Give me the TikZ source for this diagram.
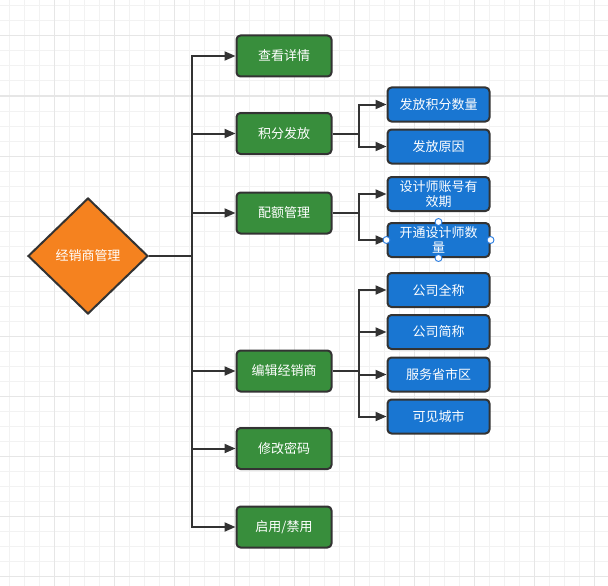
\documentclass[tikz,border=0pt]{standalone}
\usepackage{fontspec}
\newfontfamily\cjk{Noto Sans CJK SC}
\usetikzlibrary{shapes.geometric,arrows.meta}
\definecolor{gfill}{HTML}{388E3C}
\definecolor{bfill}{HTML}{1976D2}
\definecolor{ofill}{HTML}{F5821F}
\definecolor{edge}{HTML}{333333}
\definecolor{gridminor}{HTML}{F2F2F2}
\definecolor{gridmajor}{HTML}{E6E6E6}
\definecolor{handleblue}{HTML}{2A7DE1}
\begin{document}
\begin{tikzpicture}[x=1pt,y=-1pt,
  lbl/.style={text=white,font=\cjk\fontsize{13}{15}\selectfont,align=center,inner sep=0pt},
  gbox/.style={lbl,draw=edge,fill=gfill,rounded corners=4pt,line width=2pt,minimum width=95pt,minimum height=41pt},
  bbox/.style={lbl,draw=edge,fill=bfill,rounded corners=4pt,line width=2pt,minimum width=102pt,minimum height=34pt},
  diam/.style={lbl,shape=diamond,draw=edge,fill=ofill,line width=2pt,minimum width=120pt,minimum height=116pt},
  conn/.style={draw=edge,line width=2pt},
  arr/.style={conn,-{Triangle[length=11pt,width=9pt]}},
  handle/.style={draw=handleblue,fill=white,line width=0.9pt}
]
\useasboundingbox (0,0) rectangle (608,586);
\fill[white] (0,0) rectangle (608,586);
\foreach \x in {9.5,24.5,...,605} \draw[gridminor,line width=1pt] (\x,0) -- (\x,586);
\foreach \y in {6,21,...,586} \draw[gridminor,line width=1pt] (0,\y) -- (608,\y);
\foreach \x in {54.5,114.5,...,605} \draw[gridmajor,line width=1pt] (\x,0) -- (\x,586);
\foreach \y in {36,96,...,586} \draw[gridmajor,line width=1pt] (0,\y) -- (608,\y);

\node[diam] (root) at (88,256) {经销商管理};

\node[gbox] (g1) at (284,56) {查看详情};
\node[gbox] (g2) at (284,133.5) {积分发放};
\node[gbox] (g3) at (284,213) {配额管理};
\node[gbox] (g4) at (284,371) {编辑经销商};
\node[gbox] (g5) at (284,448.5) {修改密码};
\node[gbox] (g6) at (284,527) {启用/禁用};

\node[bbox] (b1) at (438.5,104.5) {发放积分数量};
\node[bbox] (b2) at (438.5,146.5) {发放原因};
\node[bbox] (b3) at (438.5,194) {设计师账号有\\效期};
\node[bbox] (b4) at (438.5,240) {开通设计师数\\量};
\node[bbox] (b5) at (438.5,290) {公司全称};
\node[bbox] (b6) at (438.5,332) {公司简称};
\node[bbox] (b7) at (438.5,374.5) {服务省市区};
\node[bbox] (b8) at (438.5,416.5) {可见城市};

\coordinate (j0) at (192,256);
\coordinate (j2) at (359,133.5);
\coordinate (j3) at (359,213);
\coordinate (j4) at (359,371);

\draw[conn] (root.east) -- (j0);
\foreach \n in {g1,g2,g3,g4,g5,g6} \draw[arr] (j0) |- (\n.west);

\draw[conn] (g2.east) -- (j2);
\foreach \n in {b1,b2} \draw[arr] (j2) |- (\n.west);
\draw[conn] (g3.east) -- (j3);
\foreach \n in {b3,b4} \draw[arr] (j3) |- (\n.west);
\draw[conn] (g4.east) -- (j4);
\foreach \n in {b5,b6,b7,b8} \draw[arr] (j4) |- (\n.west);

\foreach \a in {north,south,west,east} \draw[handle] (b4.\a) circle (3.5pt);
\end{tikzpicture}
\end{document}
